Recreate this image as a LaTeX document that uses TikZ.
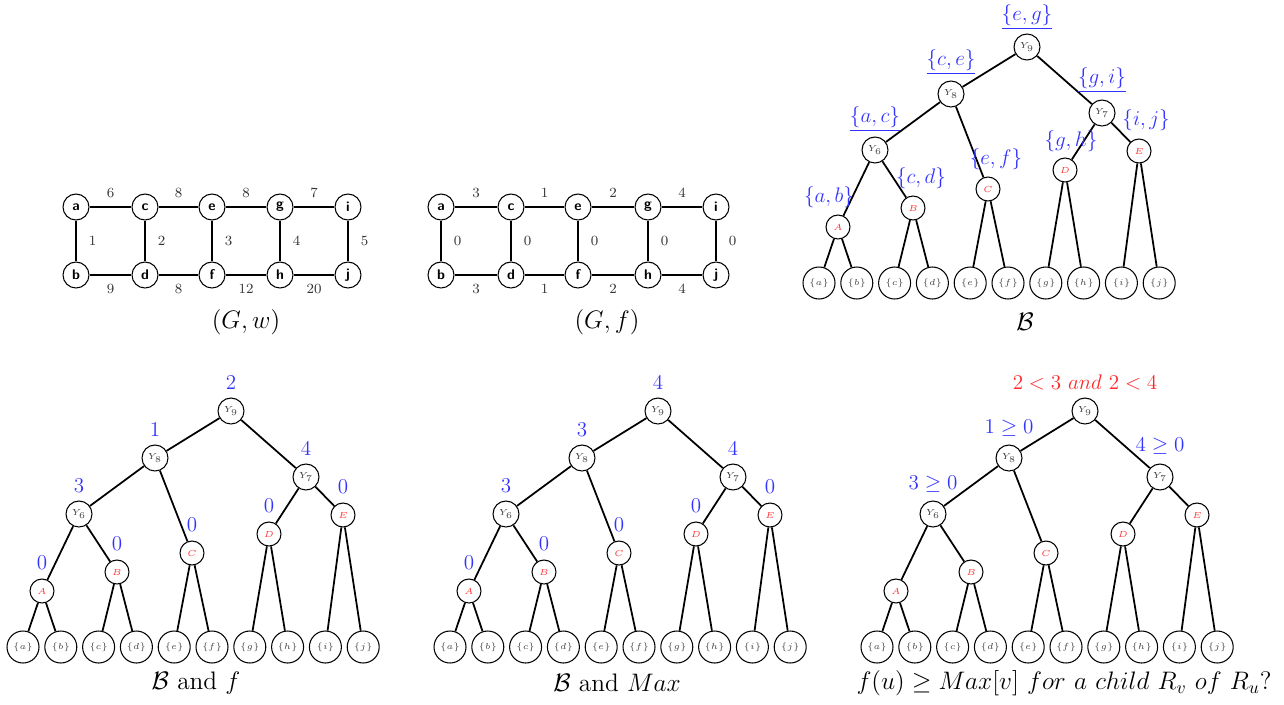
\documentclass[tikz,border=0pt]{standalone}
\usepackage{amsmath}
\usetikzlibrary{positioning}

\tikzset{
  vert/.style={circle, draw, semithick, minimum size=0.52cm, inner sep=0pt,
    font=\footnotesize\sffamily\bfseries},
  wlbl/.style={font=\footnotesize, text=black!80},
  edge/.style={line width=1pt},
  inner/.style={circle, draw, semithick, minimum size=0.52cm, inner sep=0pt,
    font=\tiny, text=black!75},
  redn/.style={circle, draw, semithick, minimum size=0.48cm, inner sep=0pt,
    font=\tiny, text=red!80},
  leaf/.style={circle, draw, semithick, minimum size=0.64cm, inner sep=0pt,
    font=\tiny, text=black!75},
  blbl/.style={font=\large, text=blue!80},
  caption/.style={font=\Large}
}

% one hierarchy B, Y9 at (0,0)
\newcommand{\bintree}{%
  \node[inner] (Y9) at (0,0) {$Y_9$};
  \node[inner] (Y8) at (-76,47) {$Y_8$};
  \node[inner] (Y7) at (75,66) {$Y_7$};
  \node[inner] (Y6) at (-152,103) {$Y_6$};
  \node[redn] (A) at (-189,180) {$A$};
  \node[redn] (B) at (-114,161) {$B$};
  \node[redn] (C) at (-39,142) {$C$};
  \node[redn] (D) at (38,123) {$D$};
  \node[redn] (E) at (112,104) {$E$};
  \foreach \l [count=\k from 0] in {a,b,c,d,e,f,g,h,i,j}
    \node[leaf] (L\l) at ({-208+37.8*\k},236) {$\{\l\}$};
  \draw[edge] (Y9) -- (Y8) (Y9) -- (Y7) (Y8) -- (Y6) (Y8) -- (C)
    (Y7) -- (D) (Y7) -- (E) (Y6) -- (A) (Y6) -- (B)
    (A) -- (La) (A) -- (Lb) (B) -- (Lc) (B) -- (Ld) (C) -- (Le) (C) -- (Lf)
    (D) -- (Lg) (D) -- (Lh) (E) -- (Li) (E) -- (Lj);
}

\begin{document}
\begin{tikzpicture}[x=0.02cm, y=-0.02cm]
  \useasboundingbox (0,0) rectangle (1284,704);

  % (G,w)
  \begin{scope}[name prefix=w-]
    \node[vert] (a) at (76,207) {a};
    \node[vert] (c) at (145,207) {c};
    \node[vert] (e) at (212,207) {e};
    \node[vert] (g) at (280,207) {g};
    \node[vert] (i) at (348,207) {i};
    \node[vert] (b) at (76,275) {b};
    \node[vert] (d) at (145,275) {d};
    \node[vert] (f) at (212,275) {f};
    \node[vert] (h) at (280,275) {h};
    \node[vert] (j) at (348,275) {j};
    \draw[edge] (a) -- node[wlbl, above=1.5pt] {6} (c);
    \draw[edge] (c) -- node[wlbl, above=1.5pt] {8} (e);
    \draw[edge] (e) -- node[wlbl, above=1.5pt] {8} (g);
    \draw[edge] (g) -- node[wlbl, above=1.5pt] {7} (i);
    \draw[edge] (b) -- node[wlbl, below=1.5pt] {9} (d);
    \draw[edge] (d) -- node[wlbl, below=1.5pt] {8} (f);
    \draw[edge] (f) -- node[wlbl, below=1.5pt] {12} (h);
    \draw[edge] (h) -- node[wlbl, below=1.5pt] {20} (j);
    \draw[edge] (a) -- node[wlbl, right=3.5pt] {1} (b);
    \draw[edge] (c) -- node[wlbl, right=3.5pt] {2} (d);
    \draw[edge] (e) -- node[wlbl, right=3.5pt] {3} (f);
    \draw[edge] (g) -- node[wlbl, right=3.5pt] {4} (h);
    \draw[edge] (i) -- node[wlbl, right=3.5pt] {5} (j);
    \node[caption] (capw) at (246,322) {$(G,w)$};
  \end{scope}

  % (G,f)
  \begin{scope}[name prefix=f-]
    \node[vert] (a) at (441,207) {a};
    \node[vert] (c) at (511,207) {c};
    \node[vert] (e) at (578,207) {e};
    \node[vert] (g) at (648,207) {g};
    \node[vert] (i) at (716,207) {i};
    \node[vert] (b) at (441,275) {b};
    \node[vert] (d) at (511,275) {d};
    \node[vert] (f) at (578,275) {f};
    \node[vert] (h) at (648,275) {h};
    \node[vert] (j) at (716,275) {j};
    \draw[edge] (a) -- node[wlbl, above=1.5pt] {3} (c);
    \draw[edge] (c) -- node[wlbl, above=1.5pt] {1} (e);
    \draw[edge] (e) -- node[wlbl, above=1.5pt] {2} (g);
    \draw[edge] (g) -- node[wlbl, above=1.5pt] {4} (i);
    \draw[edge] (b) -- node[wlbl, below=1.5pt] {3} (d);
    \draw[edge] (d) -- node[wlbl, below=1.5pt] {1} (f);
    \draw[edge] (f) -- node[wlbl, below=1.5pt] {2} (h);
    \draw[edge] (h) -- node[wlbl, below=1.5pt] {4} (j);
    \draw[edge] (a) -- node[wlbl, right=3.5pt] {0} (b);
    \draw[edge] (c) -- node[wlbl, right=3.5pt] {0} (d);
    \draw[edge] (e) -- node[wlbl, right=3.5pt] {0} (f);
    \draw[edge] (g) -- node[wlbl, right=3.5pt] {0} (h);
    \draw[edge] (i) -- node[wlbl, right=3.5pt] {0} (j);
    \node[caption] (capf) at (607,322) {$(G,f)$};
  \end{scope}

  % B with the edges of its nodes
  \begin{scope}[shift={(1027,47)}, name prefix=tr-]
    \bintree
    \node[blbl] at ([yshift=0.6cm]Y9) {$\underline{\{e,g\}}$};
    \node[blbl] at ([yshift=0.64cm]Y8) {$\underline{\{c,e\}}$};
    \node[blbl] at ([yshift=0.62cm]Y6) {$\underline{\{a,c\}}$};
    \node[blbl] at ([yshift=0.66cm]Y7) {$\underline{\{g,i\}}$};
    \node[blbl] at ([xshift=0.14cm, yshift=0.62cm]E) {$\{i,j\}$};
    \node[blbl] at ([xshift=0.12cm, yshift=0.58cm]D) {$\{g,h\}$};
    \node[blbl] at ([xshift=0.16cm, yshift=0.6cm]C) {$\{e,f\}$};
    \node[blbl] at ([xshift=0.16cm, yshift=0.6cm]B) {$\{c,d\}$};
    \node[blbl] at ([xshift=-0.18cm, yshift=0.6cm]A) {$\{a,b\}$};
    \node[caption] (capB) at (-2,275) {$\mathcal{B}$};
  \end{scope}

  % B and f
  \begin{scope}[shift={(231,411)}, name prefix=bl-]
    \bintree
    \foreach \n/\v in {Y9/2,Y8/1,Y7/4,Y6/3,A/0,B/0,C/0,D/0,E/0}
      \node[blbl] at ([yshift=0.56cm]\n) {$\v$};
    \node[caption] (capBf) at (-35,272) {$\mathcal{B}$ and $f$};
  \end{scope}

  % B and Max
  \begin{scope}[shift={(658,411)}, name prefix=bm-]
    \bintree
    \foreach \n/\v in {Y9/4,Y8/3,Y7/4,Y6/3,A/0,B/0,C/0,D/0,E/0}
      \node[blbl] at ([yshift=0.56cm]\n) {$\v$};
    \node[caption] (capBM) at (-41,272) {$\mathcal{B}$ and $Max$};
  \end{scope}

  % test f(u) >= Max[v]
  \begin{scope}[shift={(1085,411)}, name prefix=br-]
    \bintree
    \node[blbl, text=red!85] at ([yshift=0.58cm]Y9) {$2<3\ and\ 2<4$};
    \node[blbl] at ([yshift=0.6cm]Y8) {$1\geq 0$};
    \node[blbl] at ([yshift=0.62cm]Y7) {$4\geq 0$};
    \node[blbl] at ([yshift=0.6cm]Y6) {$3\geq 0$};
    \node[caption] (capT) at (-21,272) {$f(u)\geq Max[v]\ for\ a\ child\ R_v\ of\ R_u?$};
  \end{scope}
\end{tikzpicture}
\end{document}
